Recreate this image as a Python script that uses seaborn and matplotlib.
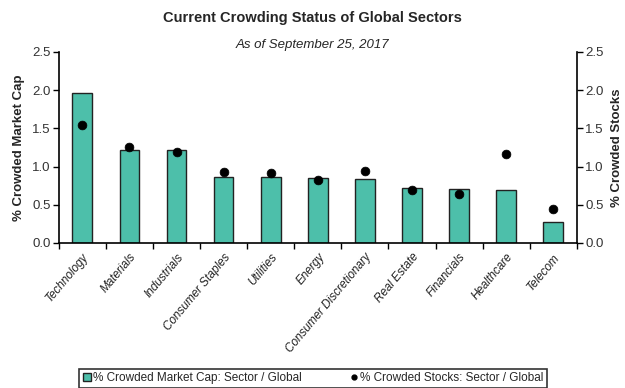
import matplotlib
matplotlib.use("Agg")
import matplotlib.pyplot as plt
import seaborn as sns
import pandas as pd
from matplotlib.lines import Line2D
from matplotlib.patches import Patch

sectors = ["Technology", "Materials", "Industrials", "Consumer Staples", "Utilities",
           "Energy", "Consumer Discretionary", "Real Estate", "Financials", "Healthcare", "Telecom"]
mkt_cap = [1.96, 1.22, 1.21, 0.86, 0.86, 0.85, 0.84, 0.72, 0.70, 0.69, 0.28]
stocks = [1.55, 1.26, 1.19, 0.93, 0.91, 0.82, 0.94, 0.69, 0.64, 1.16, 0.44]
yticks = [0.0, 0.5, 1.0, 1.5, 2.0, 2.5]

sns.set_theme(style="white")
plt.rcParams["font.family"] = ["Liberation Sans", "DejaVu Sans"]

df = pd.DataFrame({"sector": sectors, "cap": mkt_cap, "stocks": stocks})

fig = plt.figure(figsize=(6.25, 3.88), dpi=100)
ax = fig.add_axes([0.094, 0.374, 0.829, 0.492])
sns.barplot(data=df, x="sector", y="cap", color="#4DBFAA", saturation=1,
            width=0.42, edgecolor="#222222", linewidth=1.0, ax=ax)
ax2 = ax.twinx()
sns.scatterplot(data=df, x="sector", y="stocks", color="black", s=40,
                edgecolor="black", ax=ax2, zorder=5)

for a in (ax, ax2):
    a.set_ylim(0, 2.5)
    a.set_yticks(yticks)
    a.set_yticklabels([f"{v:.1f}" for v in yticks], fontsize=9.5, color="#333333")
    a.grid(False)
    for s in a.spines.values():
        s.set_visible(False)
ax.set_xlim(-0.5, len(sectors) - 0.5)
ax2.set_xlim(-0.5, len(sectors) - 0.5)
ax.spines["left"].set_visible(True)
ax.spines["bottom"].set_visible(True)
ax2.spines["right"].set_visible(True)
for sp in (ax.spines["left"], ax.spines["bottom"], ax2.spines["right"]):
    sp.set_color("black")
    sp.set_linewidth(1.2)

ax.tick_params(axis="y", which="both", left=True, length=4, width=1, color="black", pad=2)
ax2.tick_params(axis="y", which="both", right=True, length=4, width=1, color="black", pad=2)
ax.set_xticks(range(len(sectors)))
ax.set_xticklabels(sectors, rotation=50, ha="right", rotation_mode="anchor", fontsize=8.5,
                   style="italic", color="#222222")
ax.tick_params(axis="x", which="major", length=0, pad=6)
ax.set_xticks([i + 0.5 for i in range(-1, len(sectors))], minor=True)
ax.tick_params(axis="x", which="minor", bottom=True, length=4, width=1, color="black")

ax.set_xlabel("")
ax.set_ylabel("% Crowded Market Cap", fontsize=9.5, fontweight="bold", labelpad=5)
ax2.set_xlabel("")
ax2.set_ylabel("% Crowded Stocks", fontsize=9.5, fontweight="bold", rotation=90,
               labelpad=5)

fig.text(0.5, 0.954, "Current Crowding Status of Global Sectors", ha="center", va="center",
         fontsize=10.5, fontweight="bold")
fig.text(0.5, 0.884, "As of September 25, 2017", ha="center", va="center",
         fontsize=9.5, style="italic")

handles = [Patch(facecolor="#4DBFAA", edgecolor="#222222", label="% Crowded Market Cap: Sector / Global"),
           Line2D([], [], marker="o", color="black", linestyle="none", markersize=3.5,
                  label="% Crowded Stocks: Sector / Global")]
leg = fig.legend(handles=handles, loc="center", bbox_to_anchor=(0.501, 0.025), ncol=2,
                 frameon=True, fontsize=8.5, handlelength=0.7, handletextpad=0.2,
                 columnspacing=4.0, borderpad=0.3, fancybox=False,
                 borderaxespad=0)
leg.get_frame().set_edgecolor("black")
leg.get_frame().set_linewidth(1.2)

fig.savefig("out.png", dpi=100)
